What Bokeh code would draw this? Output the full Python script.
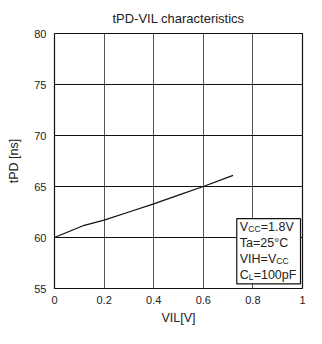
from bokeh.plotting import figure
from bokeh.models import Range1d, FixedTicker
from bokeh.core.properties import value
from bokeh.embed import file_html
from bokeh.resources import INLINE

# data
vil = [0.0, 0.12, 0.2, 0.3, 0.4, 0.5, 0.6, 0.72]
tpd = [60.0, 61.2, 61.7, 62.5, 63.3, 64.15, 65.0, 66.1]
x_ticks = [0, 0.2, 0.4, 0.6, 0.8, 1]
y_ticks = [55, 60, 65, 70, 75, 80]
title_text = "tPD-VIL characteristics"
x_label = "VIL[V]"
y_label = "tPD [ns]"

FONT = "Liberation Sans"
TXT = "#222222"

p = figure(width=306, height=328, output_backend="svg", toolbar_location=None,
           x_range=Range1d(0, 1), y_range=Range1d(55, 80),
           min_border_left=54, min_border_right=4, min_border_top=32, min_border_bottom=40)
p.title.text = title_text
p.title.align = "center"
p.title.text_font = FONT
p.title.text_font_size = "13px"
p.title.text_font_style = "normal"
p.title.text_color = TXT
p.title.standoff = 16

p.outline_line_color = "#111111"
p.outline_line_width = 1.2
p.background_fill_color = "white"
p.border_fill_color = "white"

for ax in (p.xaxis[0], p.yaxis[0]):
    ax.axis_line_color = None
    ax.major_tick_line_color = None
    ax.minor_tick_line_color = None
    ax.major_tick_out = 0
    ax.major_tick_in = 0
    ax.major_label_text_font = FONT
    ax.major_label_text_font_size = "11px"
    ax.major_label_text_color = TXT
    ax.axis_label_text_font = FONT
    ax.axis_label_text_font_size = "12.5px"
    ax.axis_label_text_font_style = "normal"
    ax.axis_label_text_color = TXT

p.xaxis.major_label_standoff = 7
p.yaxis.major_label_standoff = 8
p.xaxis.ticker = FixedTicker(ticks=x_ticks)
p.yaxis.ticker = FixedTicker(ticks=y_ticks)
p.xaxis.major_label_overrides = {0: "0", 1: "1"}
p.xaxis.axis_label = x_label
p.yaxis.axis_label = y_label
p.xaxis.axis_label_standoff = 4
p.yaxis.axis_label_standoff = 10

p.xgrid.grid_line_color = "#555555"
p.xgrid.grid_line_width = 1
p.ygrid.grid_line_color = "#111111"
p.ygrid.grid_line_width = 1

p.line(vil, tpd, line_color="#111111", line_width=1.3)

# condition box
p.quad(left=[0.735], right=[0.992], bottom=[55.45], top=[61.85],
       fill_color="white", line_color="#111111", line_width=1.2)

lines_y = [61.0, 59.45, 57.9, 56.35]
x0 = 0.747
big = "12.5px"
small = "8.5px"
common = dict(text_font=value(FONT), text_color=TXT, text_baseline="middle", text_align="left")
# line 1: Vcc=1.8V
p.text(x=[x0], y=[lines_y[0]], text=["V"], text_font_size=big, **common)
p.text(x=[x0], y=[lines_y[0]], text=["CC"], text_font_size=small, x_offset=8.5, y_offset=2, **common)
p.text(x=[x0], y=[lines_y[0]], text=["=1.8V"], text_font_size=big, x_offset=21, **common)
# line 2
p.text(x=[x0], y=[lines_y[1]], text=["Ta=25°C"], text_font_size=big, **common)
# line 3
p.text(x=[x0], y=[lines_y[2]], text=["VIH=V"], text_font_size=big, **common)
p.text(x=[x0], y=[lines_y[2]], text=["CC"], text_font_size=small, x_offset=36.6, y_offset=2, **common)
# line 4
p.text(x=[x0], y=[lines_y[3]], text=["C"], text_font_size=big, **common)
p.text(x=[x0], y=[lines_y[3]], text=["L"], text_font_size=small, x_offset=9.1, y_offset=2, **common)
p.text(x=[x0], y=[lines_y[3]], text=["=100pF"], text_font_size=big, x_offset=13.9, **common)

open("out.html", "w").write(file_html(p, INLINE))
